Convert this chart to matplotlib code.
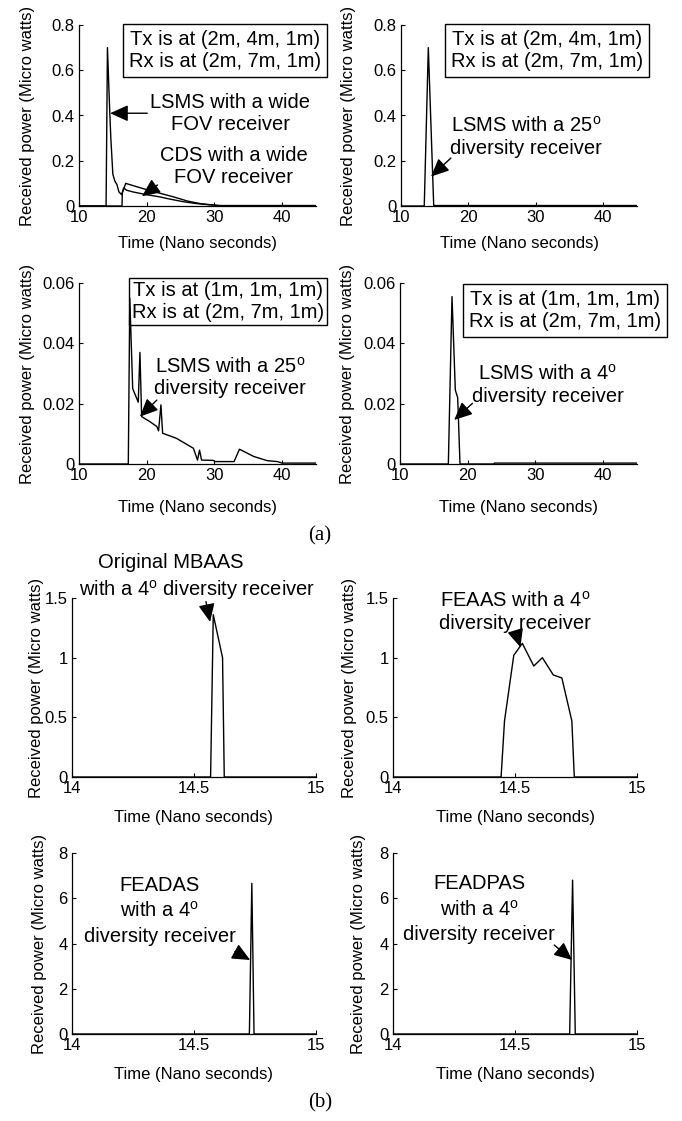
import matplotlib
matplotlib.use("Agg")
import matplotlib.pyplot as plt
from matplotlib import ticker

plt.rcParams['font.family'] = ['Liberation Sans', 'DejaVu Sans']
plt.rcParams['mathtext.fontset'] = 'custom'
plt.rcParams['mathtext.rm'] = 'Liberation Sans'

W, H = 682, 1121

# ---- (a) impulse responses, time in ns, power in micro watts
a1_lsms_t = [10, 13.98, 14.0, 14.2, 14.5, 14.7, 15.0, 15.3, 15.6, 15.9, 16.3, 16.9, 18, 20, 22, 24, 26, 28, 30, 31, 35, 40, 45]
a1_lsms_p = [0, 0, 0, 0.70, 0.45, 0.30, 0.14, 0.11, 0.095, 0.062, 0.05, 0.10, 0.09, 0.072, 0.056, 0.04, 0.022, 0.01, 0.004, 0.002, 0.002, 0.002, 0.002]
a1_cds_t = [10, 16.35, 16.4, 16.6, 17, 18, 20, 22, 23, 25.4, 27, 29, 30, 30.5, 45]
a1_cds_p = [0, 0, 0.06, 0.08, 0.07, 0.062, 0.05, 0.04, 0.033, 0.019, 0.012, 0.006, 0.004, 0.001, 0.001]

a2_t = [10, 13.45, 14.05, 14.85, 45]
a2_p = [0, 0, 0.70, 0.002, 0.002]

a3_t = [10, 17.28, 17.5, 17.93, 18.75, 19.0, 19.25, 20.5, 21.5, 21.75, 22.1, 22.35, 24.4, 26.9, 27.5,
        27.8, 28.1, 29.8, 30.1, 32.9, 33.7, 35.8, 37.8, 39.3, 40, 45]
a3_p = [0, 0, 0.055, 0.025, 0.0205, 0.037, 0.0157, 0.014, 0.0124, 0.011, 0.0196, 0.0102, 0.0085, 0.0052, 0.0013,
        0.0046, 0.0013, 0.0012, 0.0008, 0.0008, 0.0049, 0.0025, 0.0011, 0.0008, 0.0003, 0.0003]

a4_t = [10, 17.14, 17.68, 18.17, 18.52, 18.86, 23.9, 23.95, 45]
a4_p = [0, 0, 0.0555, 0.0245, 0.022, 0, 0, 0.0003, 0.0003]

# ---- (b) zoom on the 14-15 ns window
b1_t = [14, 14.568, 14.579, 14.617, 14.624, 15]
b1_p = [0, 0, 1.36, 1.0, 0, 0]

b2_t = [14, 14.443, 14.457, 14.495, 14.53, 14.577, 14.612, 14.657, 14.692, 14.733, 14.743, 15]
b2_p = [0, 0, 0.47, 1.02, 1.12, 0.93, 1.0, 0.855, 0.83, 0.47, 0, 0]

b3_t = [14, 14.727, 14.737, 14.746, 15]
b3_p = [0, 0, 6.66, 0, 0]

b4_t = [14, 14.724, 14.736, 14.747, 15]
b4_p = [0, 0, 6.8, 0, 0]

tx_rx_a = "Tx is at (2m, 4m, 1m)\nRx is at (2m, 7m, 1m)"
tx_rx_b = "Tx is at (1m, 1m, 1m)\nRx is at (2m, 7m, 1m)"
deg = "$^{\\rm o}$"

fig = plt.figure(figsize=(W / 100, H / 100), dpi=100)


def make_axes(l, r, t, b, xlim, ylim, xt, yt, ylab_off, xlab_off):
    ax = fig.add_axes([l / W, 1 - b / H, (r - l) / W, (b - t) / H])
    ax.set_xlim(xlim)
    ax.set_ylim(ylim)
    ax.set_xticks(xt)
    ax.set_yticks(yt)
    fmt = ticker.FuncFormatter(lambda v, p: f"{v:g}")
    ax.xaxis.set_major_formatter(fmt)
    ax.yaxis.set_major_formatter(fmt)
    for s in ['top', 'right']:
        ax.spines[s].set_visible(False)
    for s in ['left', 'bottom']:
        ax.spines[s].set_linewidth(0.9)
    ax.tick_params(direction='in', length=3, width=0.8, labelsize=12, pad=3)
    ax.set_xlabel("Time (Nano seconds)", fontsize=12)
    ax.set_ylabel("Received power (Micro watts)", fontsize=12)
    ax.yaxis.set_label_coords(-ylab_off / (r - l), 0.5)
    ax.xaxis.set_label_coords(0.5, -xlab_off / (b - t))
    return ax


arrow = dict(arrowstyle='-|>,head_length=0.55,head_width=0.25', color='k', lw=1.0,
             mutation_scale=20, shrinkA=0, shrinkB=0)
box = dict(boxstyle='square,pad=0.3', fc='white', ec='k', lw=1.0)
fs = 14.5

# (a) row 1
ax = make_axes(79, 316, 25, 206, (10, 45), (0, 0.8), [10, 20, 30, 40], [0, 0.2, 0.4, 0.6, 0.8], 44, 30)
ax.plot(a1_lsms_t, a1_lsms_p, color='k', lw=1.0)
ax.plot(a1_cds_t, a1_cds_p, color='k', lw=1.0)
ax.text(31.6, 0.689, tx_rx_a, ha='center', va='center', fontsize=fs, linespacing=1.2, bbox=box, clip_on=False)
ax.annotate("LSMS with a wide\nFOV receiver", xy=(14.6, 0.41), xytext=(32.3, 0.41), ha='center', va='center',
            fontsize=fs, linespacing=1.2, arrowprops=arrow)
ax.annotate("", xy=(19.3, 0.043), xytext=(21.6, 0.093), arrowprops=arrow)
ax.text(32.8, 0.174, "CDS with a wide\nFOV receiver", ha='center', va='center', fontsize=fs, linespacing=1.2)

ax = make_axes(401, 637, 25, 206, (10, 45), (0, 0.8), [10, 20, 30, 40], [0, 0.2, 0.4, 0.6, 0.8], 45, 30)
ax.plot(a2_t, a2_p, color='k', lw=1.0)
ax.text(31.6, 0.689, tx_rx_a, ha='center', va='center', fontsize=fs, linespacing=1.2, bbox=box, clip_on=False)
ax.text(28.6, 0.306, "LSMS with a 25" + deg + "\ndiversity receiver", ha='center', va='center', fontsize=fs,
        linespacing=1.2)
ax.annotate("", xy=(14.45, 0.13), xytext=(17.4, 0.212), arrowprops=arrow)

# (a) row 2
ax = make_axes(79, 316, 283, 464, (10, 45), (0, 0.06), [10, 20, 30, 40], [0, 0.02, 0.04, 0.06], 44, 36)
ax.plot(a3_t, a3_p, color='k', lw=1.0)
ax.text(32.0, 0.0538, tx_rx_b, ha='center', va='center', fontsize=fs, linespacing=1.2,
        bbox=dict(boxstyle='square,pad=0.15', fc='none', ec='k', lw=1.0), clip_on=False)
ax.text(32.3, 0.0287, "LSMS with a 25" + deg + "\ndiversity receiver", ha='center', va='center', fontsize=fs,
        linespacing=1.2)
ax.annotate("", xy=(19.0, 0.0157), xytext=(21.5, 0.0212), arrowprops=arrow)

ax = make_axes(400, 637, 283, 464, (10, 45), (0, 0.06), [10, 20, 30, 40], [0, 0.02, 0.04, 0.06], 45, 36)
ax.plot(a4_t, a4_p, color='k', lw=1.0)
ax.text(34.4, 0.0508, tx_rx_b, ha='center', va='center', fontsize=fs, linespacing=1.2, bbox=box, clip_on=False)
ax.text(31.8, 0.0262, "LSMS with a 4" + deg + "\ndiversity receiver", ha='center', va='center', fontsize=fs,
        linespacing=1.2)
ax.annotate("", xy=(18.0, 0.0146), xytext=(20.7, 0.0201), arrowprops=arrow)

fig.text(320 / W, 1 - 536 / H, "(a)", family='Liberation Serif', fontsize=15, ha='center', va='center')

# (b) row 1
ax = make_axes(72, 316, 598, 777, (14, 15), (0, 1.5), [14, 14.5, 15], [0, 0.5, 1, 1.5], 28, 33)
ax.plot(b1_t, b1_p, color='k', lw=1.0)
ax.text(14.405, 1.797, "Original MBAAS", ha='center', va='center', fontsize=fs, clip_on=False)
ax.text(14.514, 1.568, "with a 4" + deg + " diversity receiver", ha='center', va='center', fontsize=fs,
        clip_on=False)
ax.annotate("", xy=(14.566, 1.30), xytext=(14.549, 1.47), arrowprops=arrow)

ax = make_axes(393, 637, 598, 777, (14, 15), (0, 1.5), [14, 14.5, 15], [0, 0.5, 1, 1.5], 36, 33)
ax.plot(b2_t, b2_p, color='k', lw=1.0)
ax.text(14.5, 1.385, "FEAAS with a 4" + deg + "\ndiversity receiver", ha='center', va='center', fontsize=fs,
        linespacing=1.2, clip_on=False)
ax.annotate("", xy=(14.522, 1.088), xytext=(14.504, 1.21), arrowprops=arrow)

# (b) row 2
ax = make_axes(72, 316, 853, 1034, (14, 15), (0, 8), [14, 14.5, 15], [0, 2, 4, 6, 8], 25, 33)
ax.plot(b3_t, b3_p, color='k', lw=1.0)
ax.text(14.36, 5.44, "FEADAS\nwith a 4" + deg + "\ndiversity receiver", ha='center', va='center', fontsize=fs,
        linespacing=1.4)
ax.annotate("", xy=(14.73, 3.27), xytext=(14.668, 3.64), arrowprops=arrow)

ax = make_axes(393, 637, 853, 1034, (14, 15), (0, 8), [14, 14.5, 15], [0, 2, 4, 6, 8], 27, 33)
ax.plot(b4_t, b4_p, color='k', lw=1.0)
ax.text(14.354, 5.52, "FEADPAS\nwith a 4" + deg + "\ndiversity receiver", ha='center', va='center', fontsize=fs,
        linespacing=1.4)
ax.annotate("", xy=(14.734, 3.27), xytext=(14.661, 3.93), arrowprops=arrow)

fig.text(320 / W, 1 - 1103 / H, "(b)", family='Liberation Serif', fontsize=15, ha='center', va='center')

fig.savefig("out.png", dpi=100)
